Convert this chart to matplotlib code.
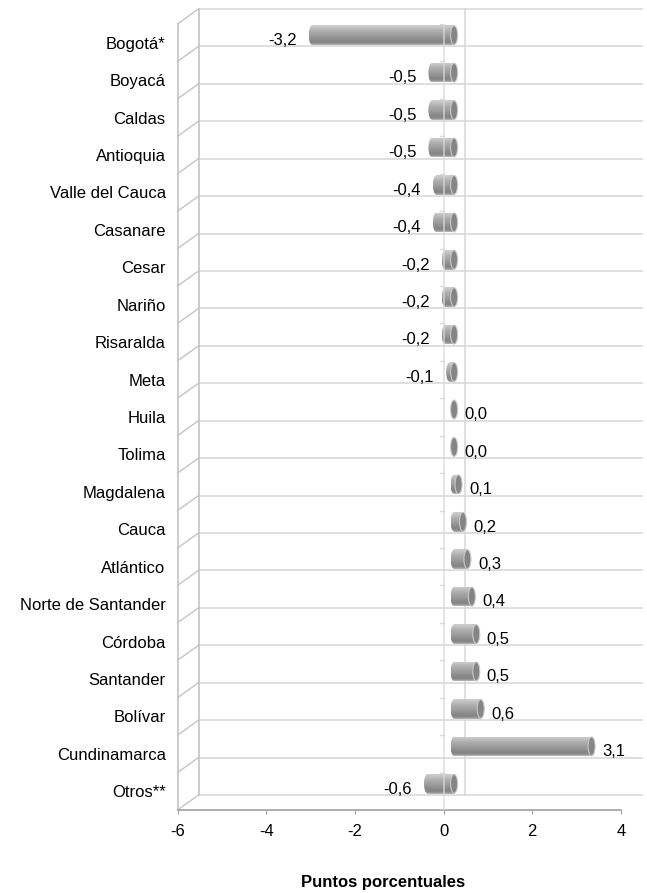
import matplotlib.pyplot as plt
from matplotlib.patches import Rectangle, Ellipse
import numpy as np

plt.rcParams['font.family'] = ['Liberation Sans', 'DejaVu Sans']

regiones = ["Bogotá*", "Boyacá", "Caldas", "Antioquia", "Valle del Cauca",
            "Casanare", "Cesar", "Nariño", "Risaralda", "Meta", "Huila",
            "Tolima", "Magdalena", "Cauca", "Atlántico", "Norte de Santander",
            "Córdoba", "Santander", "Bolívar", "Cundinamarca", "Otros**"]
valores = [-3.2, -0.5, -0.5, -0.5, -0.4, -0.4, -0.2, -0.2, -0.2, -0.1,
           0.0, 0.0, 0.1, 0.2, 0.3, 0.4, 0.5, 0.5, 0.6, 3.1, -0.6]
xticks = [-6, -4, -2, 0, 2, 4]

W, H = 647, 893
fig = plt.figure(figsize=(W / 100, H / 100), dpi=100)
# front plane of the 3D box
ax = fig.add_axes([177.5 / W, (H - 810) / H, 443.5 / W, 786 / H])

n = len(regiones)
XMIN, XMAX = -6, 4
DX = 21 / 44.35      # depth offset of the back wall, x units
DY = -15 / 37.43     # depth offset, category units (up)
GRID = '#d9d9d9'
WALL = '#c4c4c4'

# back wall grid
for k in range(n + 1):
    yb = k - 0.5 + DY
    ax.plot([XMIN + DX, XMAX + DX], [yb, yb], color=GRID, lw=1.2,
            zorder=1, clip_on=False)
    ax.plot([XMIN, XMIN + DX], [k - 0.5, yb], color=WALL, lw=1.0,
            zorder=1, clip_on=False)
ax.plot([XMIN + DX, XMIN + DX], [-0.5 + DY, n - 0.5 + DY], color=WALL,
        lw=1.2, zorder=1, clip_on=False)
ax.plot([DX, DX], [-0.5 + DY, n - 0.5 + DY], color=GRID, lw=1.2,
        zorder=1, clip_on=False)

# cylinders
OX = DX / 2
OY = DY / 2
A = 3.5 / 44.35
BH = 0.52
perfil = np.array([0.80, 0.78, 0.75, 0.72, 0.69, 0.67, 0.65, 0.63, 0.61,
                   0.59, 0.57, 0.55, 0.53, 0.52, 0.55, 0.68])[:, None]

for i, v in enumerate(valores):
    yc = i + OY
    left = min(0, v) + OX
    right = max(0, v) + OX
    top, bot = yc - BH / 2, yc + BH / 2
    if right - left > 1e-6:
        rect = Rectangle((left, top), right - left, BH, fill=False, lw=0)
        ax.add_patch(rect)
        im = ax.imshow(perfil, cmap='gray', vmin=0, vmax=1, aspect='auto',
                       extent=(left - A, right, bot, top), origin='upper',
                       interpolation='bilinear', zorder=3)
        im.set_clip_path(rect)
        el = Ellipse((left, yc), 2 * A, BH, fill=False, lw=0)
        ax.add_patch(el)
        im2 = ax.imshow(perfil, cmap='gray', vmin=0, vmax=1, aspect='auto',
                        extent=(left - A, right, bot, top), origin='upper',
                        interpolation='bilinear', zorder=3)
        im2.set_clip_path(el)
    ax.add_patch(Ellipse((right, yc), 2 * A, BH * 0.97, facecolor='#858585',
                         edgecolor='#c8c8c8', lw=0.8, zorder=4))

    txt = f"{v:.1f}".replace('.', ',')
    ly = i - 0.06
    if v < 0:
        ax.text(left - A - 12 / 44.35, ly, txt, ha='right', va='center',
                fontsize=12, color='black', zorder=5)
    else:
        ax.text(right + A + 7 / 44.35, ly, txt, ha='left', va='center',
                fontsize=12, color='black', zorder=5)

# front category axis at zero
ax.plot([0, 0], [-0.5, n - 0.5], color=GRID, lw=1.2, alpha=0.8, zorder=6)
for k in range(n + 1):
    ax.plot([-0.07, 0], [k - 0.5, k - 0.5], color=GRID, lw=1.0, zorder=6)

ax.set_xlim(XMIN, XMAX)
ax.set_ylim(n - 0.5, -0.5)
ax.set_xticks(xticks)
ax.set_xticklabels([str(t) for t in xticks], fontsize=12)
ax.set_yticks(range(n))
ax.set_yticklabels(regiones, fontsize=12)
ax.tick_params(axis='y', length=0, pad=8.5)
ax.tick_params(axis='x', length=3, direction='out', color='#a0a0a0', pad=7)
for s in ['top', 'right']:
    ax.spines[s].set_visible(False)
ax.spines['bottom'].set_color('#a0a0a0')
ax.spines['bottom'].set_linewidth(1.2)
ax.spines['left'].set_color(WALL)
ax.spines['left'].set_linewidth(1.2)
ax.patch.set_visible(False)

fig.text(383 / W, (H - 882) / H, "Puntos porcentuales", ha='center',
         va='center', fontsize=12, fontweight='bold')

fig.savefig('out.png', dpi=100)
